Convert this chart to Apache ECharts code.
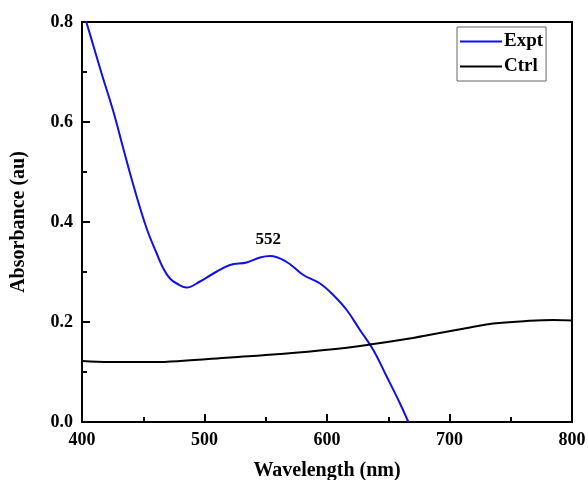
<!DOCTYPE html>
<html>
<head>
<meta charset="utf-8">
<script src="https://cdn.jsdelivr.net/npm/echarts@6/dist/echarts.min.js"></script>
<style>
	html, body { margin: 0; padding: 0; background: #fff; }
	#chart { width: 588px; height: 480px; }
</style>
</head>
<body>
<div id="chart"></div>
<script>
// absorbance spectra
const exptWavelength = [ 400, 403.5, 409, 416, 425.6, 433.7, 441.9, 452.8, 461, 466.4, 471.8, 477.3, 485.5, 496.3, 507.2, 520.8, 534.4, 545.3, 553.5, 567.1, 580.7, 594.3, 605.1, 616.1, 626.9, 637.8, 648.7, 659.6, 666.4 ];
const exptAbsorb = [ 0.825, 0.80, 0.755, 0.697, 0.621, 0.547, 0.474, 0.387, 0.337, 0.307, 0.287, 0.277, 0.269, 0.281, 0.297, 0.314, 0.319, 0.329, 0.332, 0.320, 0.294, 0.277, 0.254, 0.224, 0.184, 0.144, 0.091, 0.037, 0.0 ];

const ctrlWavelength = [ 400, 422.9, 458.2, 480, 520.8, 561.6, 602.4, 635.1, 662.3, 689.6, 716.7, 735.8, 763, 784.7, 800 ];
const ctrlAbsorb = [ 0.122, 0.120, 0.120, 0.122, 0.129, 0.136, 0.145, 0.155, 0.165, 0.177, 0.189, 0.197, 0.202, 0.204, 0.203 ];

const peakLabel = [ 552, 0.332, "552" ];

const xTicks = { min: 400, max: 800, step: 100 };
const yTicks = { min: 0, max: 0.8, step: 0.2 };

const font = "'Liberation Serif', 'Times New Roman', serif";

const zip = ( xs, ys ) => xs.map( ( x, i ) => [ x, ys[i] ] );

const chart = echarts.init( document.getElementById( "chart" ) );

const axisCommon = {
	type: "value",
	nameLocation: "middle",
	nameTextStyle: { fontFamily: font, fontWeight: "bold", fontSize: 20, color: "#000" },
	axisLine: { show: true, lineStyle: { color: "#000", width: 2 } },
	axisTick: { show: true, inside: true, length: 8, lineStyle: { color: "#000", width: 2 } },
	minorTick: { show: true, splitNumber: 2, length: 5, lineStyle: { color: "#000", width: 2 } },
	axisLabel: { fontFamily: font, fontWeight: "bold", fontSize: 18, color: "#000" },
	splitLine: { show: false }
};

chart.setOption( {
	animation: false,
	grid: {
		left: 82, right: 16, top: 22, bottom: 58,
		outerBoundsMode: "none",
		containLabel: false,
		show: true, borderColor: "#000", borderWidth: 2
	},
	legend: {
		orient: "vertical",
		left: 457, top: 27,
		padding: [ 5, 3, 5, 3 ],
		itemGap: 6,
		itemWidth: 42,
		itemHeight: 2,
		icon: "rect",
		borderColor: "#666",
		borderWidth: 1,
		textStyle: { fontFamily: font, fontWeight: "bold", fontSize: 19, color: "#000", padding: [ 0, 0, 0, -3 ] },
		data: [ "Expt", "Ctrl" ]
	},
	xAxis: {
		...axisCommon,
		min: xTicks.min, max: xTicks.max, interval: xTicks.step,
		name: "Wavelength (nm)",
		nameGap: 39,
		axisLabel: { ...axisCommon.axisLabel, margin: 9 }
	},
	yAxis: {
		...axisCommon,
		min: yTicks.min, max: yTicks.max, interval: yTicks.step,
		name: "Absorbance (au)",
		nameGap: 53,
		axisLabel: { ...axisCommon.axisLabel, margin: 9, formatter: v => v.toFixed( 1 ) }
	},
	series: [ {
		name: "Expt",
		type: "line",
		data: zip( exptWavelength, exptAbsorb ),
		smooth: 0.4,
		showSymbol: false,
		clip: true,
		color: "#1010e8",
		lineStyle: { width: 2, color: "#1010e8" },
		markPoint: {
			symbol: "circle",
			symbolSize: 0,
			label: {
				show: true,
				position: "top",
				distance: 8,
				formatter: peakLabel[2],
				fontFamily: font, fontWeight: "bold", fontSize: 17, color: "#000"
			},
			data: [ { coord: [ peakLabel[0], peakLabel[1] ] } ]
		}
	}, {
		name: "Ctrl",
		type: "line",
		data: zip( ctrlWavelength, ctrlAbsorb ),
		smooth: 0.4,
		showSymbol: false,
		color: "#000",
		lineStyle: { width: 2, color: "#000" }
	} ]
} );
</script>
</body>
</html>
